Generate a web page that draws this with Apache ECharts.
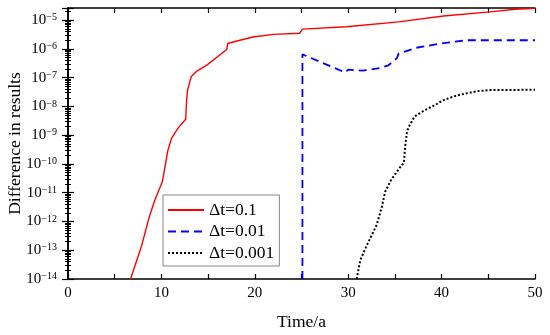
<!DOCTYPE html>
<html><head><meta charset="utf-8">
<script src="https://cdn.jsdelivr.net/npm/echarts@6/dist/echarts.min.js"></script>
<style>html,body{margin:0;padding:0;background:#fff}#c{width:550px;height:335px}</style>
</head><body><div id="c"></div>
<script>
// ---- data ----
const seriesNames = ['\u0394t=0.1', '\u0394t=0.01', '\u0394t=0.001'];
const xTickLabels = [0, 10, 20, 30, 40, 50];
const yTickExponents = [-14, -13, -12, -11, -10, -9, -8, -7, -6, -5];

const redT = [6.7, 7.9, 8.7, 9.3, 10.1, 10.7, 11.1, 11.8, 12.6, 12.7, 12.8, 13.2, 13.8, 14.9, 17.0, 17.1, 18.4, 19.8, 22.0, 24.8, 25.1, 29.8, 30.0, 35.4, 35.5, 40.2, 40.3, 45.2, 45.3, 47.9, 50];
const redV = [1e-14, 1.5e-13, 1.45e-12, 5.6e-12, 2.4e-11, 3.0e-10, 7.9e-10, 1.8e-9, 3.6e-9, 1.7e-8, 3.7e-8, 1.1e-7, 1.7e-7, 2.8e-7, 9.5e-7, 1.55e-6, 2.0e-6, 2.6e-6, 3.2e-6, 3.5e-6, 4.9e-6, 5.9e-6, 6.9e-6, 8.7e-6, 1.0e-5, 1.4e-5, 1.6e-5, 1.95e-5, 2.2e-5, 2.4e-5, 2.6e-5];

const blueT = [25.1, 25.1, 29.7, 30.0, 31.5, 33.5, 34.3, 35.2, 35.4, 37.3, 40.2, 42.7, 50];
const blueV = [1e-14, 6.5e-7, 1.5e-7, 1.9e-7, 1.75e-7, 2.2e-7, 2.7e-7, 4.7e-7, 6.9e-7, 1.1e-6, 1.6e-6, 2.0e-6, 2.0e-6];

const blackT = [30.9, 31.3, 32.0, 33.05, 33.6, 33.95, 34.6, 35.7, 35.95, 36.1, 36.3, 36.6, 37.1, 38.2, 39.3, 40.2, 41.6, 43.8, 45.2, 50];
const blackV = [1e-14, 4.6e-14, 1.5e-13, 7.6e-13, 3.2e-12, 1.07e-11, 2.8e-11, 9e-11, 1.05e-10, 4e-10, 1.4e-9, 2.3e-9, 4.5e-9, 7.4e-9, 1.12e-8, 1.66e-8, 2.4e-8, 3.4e-8, 3.7e-8, 3.8e-8];

const xMin = 0, xMax = 50, yMin = 1e-14, yMax = 2.65e-5;

// ---- build ----
const F = '"Liberation Serif", "Times New Roman", serif';
const zip = (a, b) => a.map((t, i) => [t, b[i]]);
const minus = s => String(s).replace('-', '\u2212');

function yLabel(v) {
  const e = Math.log10(v), r = Math.round(e);
  if (Math.abs(e - r) > 1e-6 || yTickExponents.indexOf(r) < 0) return '';
  return '{b|10}{s|' + minus(r) + '}';
}
function xLabel(v) {
  return xTickLabels.indexOf(v) >= 0 ? String(v) : '';
}

const axisLineStyle = { color: '#000', width: 1.6 };
const yAxisBase = {
  type: 'log', logBase: 10, min: yMin, max: yMax, splitNumber: 10,
  axisLine: { show: true, lineStyle: axisLineStyle },
  axisTick: { show: true, inside: true, length: 6, lineStyle: { color: '#000', width: 1.2 } },
  minorTick: { show: true, splitNumber: 9, length: 3, lineStyle: { color: '#000', width: 1 } },
  splitLine: { show: false }
};
const xAxisBase = {
  type: 'value', min: xMin, max: xMax, interval: 5,
  axisLine: { show: true, onZero: false, lineStyle: axisLineStyle },
  axisTick: { show: true, inside: true, length: 5, lineStyle: { color: '#000', width: 1.2 } },
  splitLine: { show: false }
};

const chart = echarts.init(document.getElementById('c'), null, { renderer: 'canvas' });
chart.setOption({
  animation: false,
  backgroundColor: '#fff',
  grid: { left: 68, right: 15, top: 8, bottom: 56, containLabel: false, outerBoundsMode: 'none' },
  legend: {
    left: 163, top: 195, orient: 'vertical',
    data: seriesNames,
    backgroundColor: '#fff', borderColor: '#888', borderWidth: 1, borderRadius: 0,
    padding: [6, 5, 4, 4], itemGap: 3.5, itemWidth: 36, itemHeight: 14,
    textStyle: { fontFamily: F, fontSize: 17.5, color: '#000', padding: [0, 0, 0, 0] },
    itemStyle: { opacity: 0 }
  },
  xAxis: [
    Object.assign({}, xAxisBase, {
      position: 'bottom',
      name: 'Time/a', nameLocation: 'middle', nameGap: 34, nameMoveOverlap: false,
      nameTextStyle: { fontFamily: F, fontSize: 17.5, color: '#000' },
      axisLabel: { formatter: xLabel, fontFamily: F, fontSize: 15, color: '#000', margin: 7 }
    }),
    Object.assign({}, xAxisBase, { position: 'top', axisLabel: { show: false } })
  ],
  yAxis: [
    Object.assign({}, yAxisBase, {
      position: 'left',
      name: 'Difference in results', nameLocation: 'middle', nameGap: 44, nameMoveOverlap: false,
      nameTextStyle: { fontFamily: F, fontSize: 17.5, color: '#000' },
      axisLabel: {
        formatter: yLabel, margin: 11,
        rich: {
          b: { fontFamily: F, fontSize: 15, color: '#000', lineHeight: 15 },
          s: { fontFamily: F, fontSize: 10, color: '#000', lineHeight: 11, verticalAlign: 'top' }
        }
      }
    }),
    Object.assign({}, yAxisBase, { position: 'right', axisLabel: { show: false } })
  ],
  series: [
    { name: seriesNames[0], type: 'line', data: zip(redT, redV), symbol: 'none', smooth: false,
      lineStyle: { color: '#ff0000', width: 1.4, type: 'solid' }, itemStyle: { color: '#ff0000' } },
    { name: seriesNames[1], type: 'line', data: zip(blueT, blueV), symbol: 'none',
      lineStyle: { color: '#0000ff', width: 1.8, type: [8, 5] }, itemStyle: { color: '#0000ff' } },
    { name: seriesNames[2], type: 'line', data: zip(blackT, blackV), symbol: 'none',
      lineStyle: { color: '#000', width: 2, type: [2, 2] }, itemStyle: { color: '#000' } }
  ]
});
</script></body></html>
